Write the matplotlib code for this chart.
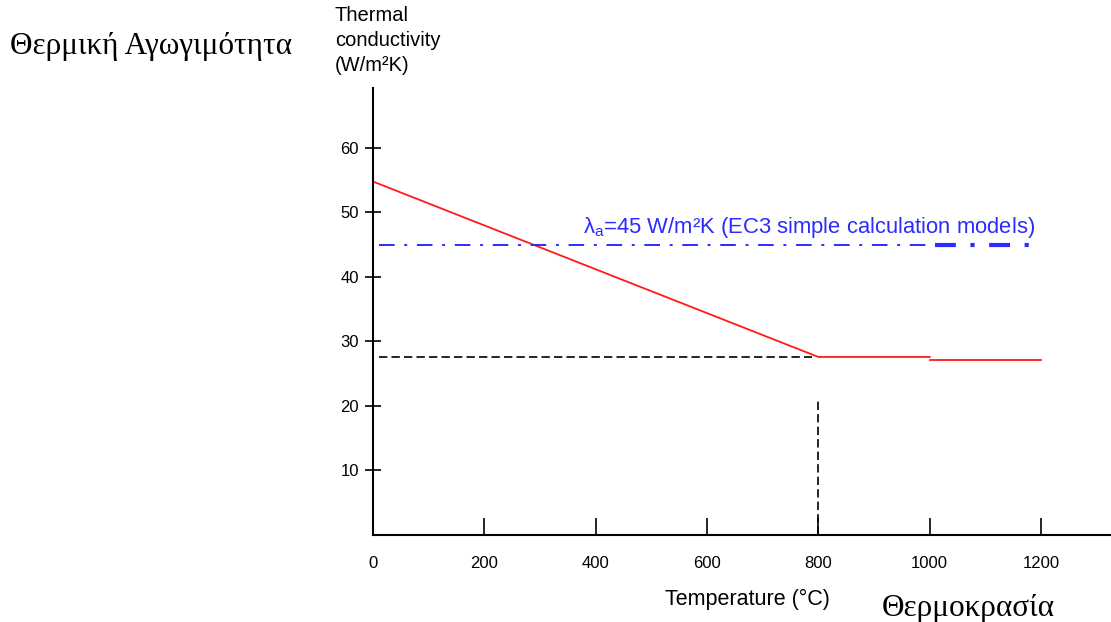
import numpy as np
import matplotlib.pyplot as plt

# thermal conductivity of steel vs temperature
temp_a = [0, 800, 1000]
cond_a = [54.8, 27.6, 27.6]
temp_b = [1000, 1200]
cond_b = [27.2, 27.2]

ec3_value = 45
ec3_thin = [10, 1010]
ec3_thick = [1010, 1190]

ref_temp = 800
ref_cond = 27.6
ref_h_x = [10, 788]
ref_v_y = [0, 21]

xticks = [0, 200, 400, 600, 800, 1000, 1200]
yticks = [10, 20, 30, 40, 50, 60]

plt.rcParams['font.family'] = ['Liberation Sans', 'DejaVu Sans']

fig = plt.figure(figsize=(11.11, 6.22), dpi=100)
ax = fig.add_axes([0.3357, 0.1399, 0.6643, 0.7186])

ax.plot(temp_a, cond_a, color='#ff1a1a', lw=1.3)
ax.plot(temp_b, cond_b, color='#ff1a1a', lw=1.3)

ax.plot(ec3_thin, [ec3_value] * 2, color='#2b2bff', lw=1.4, dashes=(8, 5, 1.5, 5))
ax.plot(ec3_thick, [ec3_value] * 2, color='#2b2bff', lw=3, dashes=(5, 3.5, 1, 3.5))

ax.plot(ref_h_x, [ref_cond] * 2, color='black', lw=1.2, dashes=(5, 2.5))
ax.plot([ref_temp] * 2, ref_v_y, color='black', lw=1.2, dashes=(5, 2.5))

ax.text(1190, 47.6, r'$\mathregular{\lambda_a}$=45 W/m²K (EC3 simple calculation models)',
        color='#2b2bff', fontsize=15.8, ha='right', va='center')

ax.set_xlim(0, 1325.7)
ax.set_ylim(0, 69.3)
ax.set_xticks(xticks)
ax.set_yticks(yticks)
ax.tick_params(axis='x', direction='in', length=12, width=1.2, pad=15, labelsize=12)
ax.tick_params(axis='y', direction='inout', length=12, width=1.2, pad=4, labelsize=12)

for s in ['top', 'right']:
    ax.spines[s].set_visible(False)
for s in ['left', 'bottom']:
    ax.spines[s].set_linewidth(1.5)

fig.text(0.3015, 0.99, 'Thermal\nconductivity\n(W/m²K)', fontsize=14.5, ha='left', va='top',
         linespacing=1.4)
fig.text(0.673, 0.037, 'Temperature (°C)', fontsize=15.5, ha='center', va='center')

fig.text(0.009, 0.925, 'Θερμική Αγωγιμότητα', family='Liberation Serif', fontsize=22.5,
         ha='left', va='center')
fig.text(0.794, 0.022, 'Θερμοκρασία', family='Liberation Serif', fontsize=22.5,
         ha='left', va='center')

fig.savefig('out.png', dpi=100)
